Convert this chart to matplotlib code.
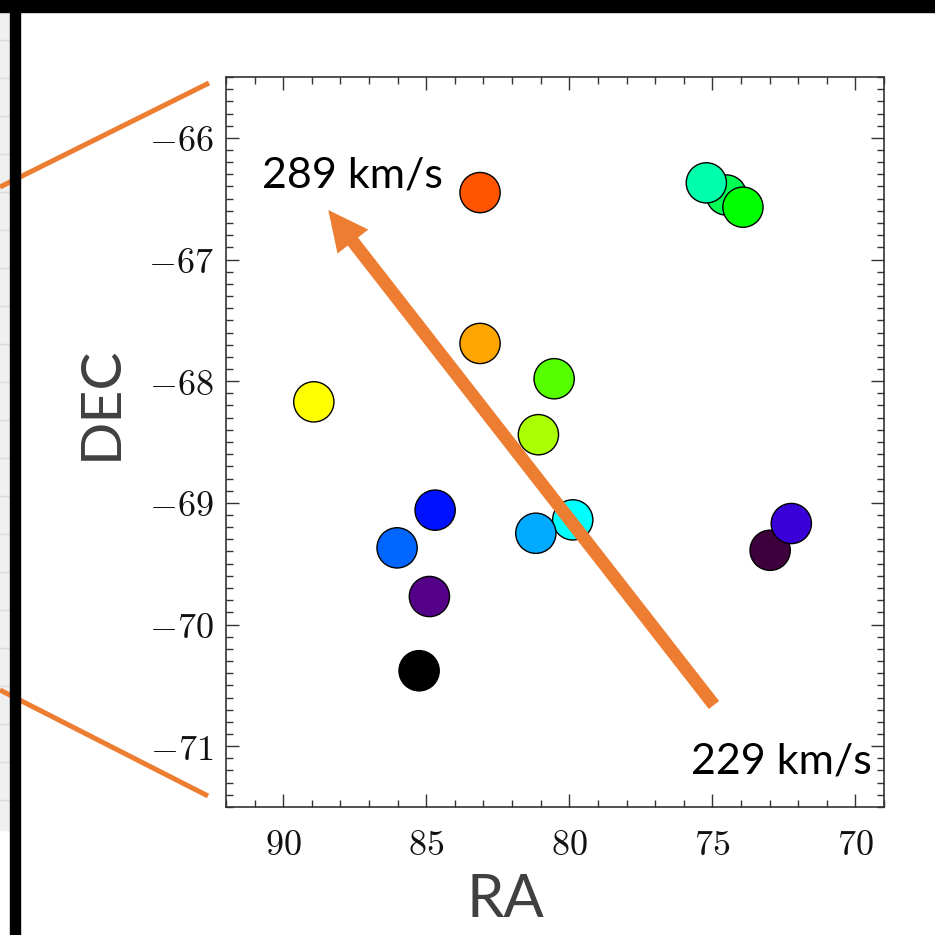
import matplotlib
matplotlib.use("Agg")
import matplotlib.pyplot as plt
from matplotlib.patches import Rectangle, FancyArrow
from matplotlib.ticker import MultipleLocator, FuncFormatter

plt.rcParams["mathtext.fontset"] = "cm"

# Source positions (degrees) and their velocity colours
ra = [74.51, 75.21, 73.93, 83.12, 83.12, 88.93, 80.53, 81.08,
      84.69, 86.02, 79.88, 81.17, 84.89, 85.25, 72.98, 72.24]
dec = [-66.47, -66.37, -66.57, -66.45, -67.69, -68.17, -67.98, -68.44,
       -69.06, -69.37, -69.14, -69.25, -69.77, -70.38, -69.39, -69.17]
colors = ["#00FF55", "#00FFAA", "#00FF00", "#FF5500", "#FFA500", "#FFFF00",
          "#55FF00", "#AAFF00", "#0011FF", "#0066FF", "#00FFFF", "#00AAFF",
          "#550088", "#000000", "#3D003D", "#3A00D8"]

ra_ticks = [90, 85, 80, 75, 70]
dec_ticks = [-66, -67, -68, -69, -70, -71]
label_high = "289 km/s"
label_low = "229 km/s"

W = 935
fig = plt.figure(figsize=(W / 100, W / 100), dpi=100)
fig.patch.set_facecolor("white")

ax = fig.add_axes([226 / W, 1 - 807 / W, (884 - 226) / W, (807 - 77) / W])
ax.scatter(ra, dec, s=840, c=colors, edgecolors="black", linewidths=1.0, zorder=3)
ax.set_xlim(92, 69)
ax.set_ylim(-71.5, -65.5)
ax.set_xticks(ra_ticks)
ax.set_yticks(dec_ticks)
ax.xaxis.set_minor_locator(MultipleLocator(1))
ax.yaxis.set_minor_locator(MultipleLocator(0.1))
fmt = FuncFormatter(lambda v, p: r"$%d$" % round(v))
ax.xaxis.set_major_formatter(fmt)
ax.yaxis.set_major_formatter(fmt)
ax.tick_params(which="both", direction="in", top=True, right=True,
               colors="#333333", labelcolor="#111111", width=1.0)
ax.tick_params(which="major", length=9.5, labelsize=26)
ax.tick_params(which="minor", length=4.8)
ax.tick_params(axis="x", which="major", pad=15)
ax.tick_params(axis="y", which="major", pad=9)
for sp in ax.spines.values():
    sp.set_color("#333333")
    sp.set_linewidth(1.2)

# Overlay in pixel coordinates for slide decorations
ov = fig.add_axes([0, 0, 1, 1])
ov.set_xlim(0, W)
ov.set_ylim(W, 0)
ov.axis("off")

orange = "#ED7D31"
# faint strip at the far left
ov.add_patch(Rectangle((0, 12), 10, 818, color="#F0F0F0", zorder=1))
for yy in range(40, 830, 38):
    ov.plot([0, 10], [yy, yy], color="#DADADA", lw=1, zorder=1.5)

ov.plot([0, 209], [187, 83], color=orange, lw=3.6, solid_capstyle="butt", zorder=2)
ov.plot([0, 208], [690, 796], color=orange, lw=3.6, solid_capstyle="butt", zorder=2)

ov.add_patch(Rectangle((0, 0), W, 12, color="black", zorder=5))
ov.add_patch(Rectangle((10, 0), 10, W, color="black", zorder=5))

tail = (714, 705)
tip = (328.3, 210)
ov.add_patch(FancyArrow(tail[0], tail[1], tip[0] - tail[0], tip[1] - tail[1],
                        width=13, head_width=39, head_length=40,
                        length_includes_head=True, color=orange, lw=0, zorder=4))

txt_font = ["Lato", "DejaVu Sans"]
ov.text(262, 187.7, label_high, fontsize=31, family=txt_font, color="black",
        ha="left", va="baseline", zorder=6)
ov.text(690.7, 774, label_low, fontsize=31, family=txt_font, color="black",
        ha="left", va="baseline", zorder=6)
ov.text(466, 916.7, "RA", fontsize=43, family=txt_font, color="#404040",
        ha="left", va="baseline", zorder=6)
ov.text(116.7, 403, "DEC", fontsize=41, family=txt_font, color="#404040",
        ha="center", va="baseline", rotation=90, rotation_mode="anchor", zorder=6)

fig.savefig("out.png", dpi=100, facecolor="white")
